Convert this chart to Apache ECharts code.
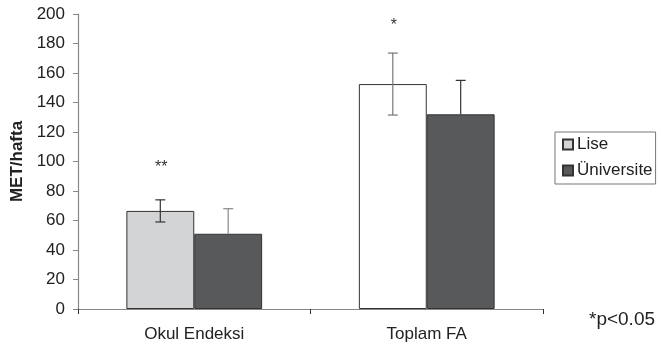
<!DOCTYPE html>
<html><head><meta charset="utf-8">
<script src="https://cdn.jsdelivr.net/npm/echarts@6/dist/echarts.min.js"></script>
<style>html,body{margin:0;padding:0;background:#fff}#c{width:661px;height:349px}</style>
</head><body><div id="c"></div>
<script>
var categories = ['Okul Endeksi', 'Toplam FA'];
var liseValues = [66.5, 152.5];
var liseSD = [7.5, 21];
var univValues = [51, 132];
var univSD = [17, 23];
var significance = ['**', '*'];
var significanceLevel = [98, 194];
var yTicks = {min: 0, max: 200, interval: 20};

var FONT = '"Liberation Sans", Arial, sans-serif';
var BAR_FRAC = 0.292;
var chart = echarts.init(document.getElementById('c'));

function errRender(values, sds, sideSign, showLower, color, stars) {
  return function (params, api) {
    var i = api.value(0);
    var bw = api.size([1, 0])[0] * BAR_FRAC;
    var base = api.coord([i, values[i]]);
    var x = base[0] + sideSign * bw / 2;
    var yTop = api.coord([i, values[i] + sds[i]])[1];
    var yBot = showLower ? api.coord([i, values[i] - sds[i]])[1] : base[1];
    var children = [
      {type: 'line', shape: {x1: x, y1: yTop, x2: x, y2: yBot}, style: {stroke: color[i], lineWidth: 1.2}},
      {type: 'line', shape: {x1: x - 5, y1: yTop, x2: x + 5, y2: yTop}, style: {stroke: color[i], lineWidth: 1.2}}
    ];
    if (showLower) children.push({type: 'line', shape: {x1: x - 5, y1: yBot, x2: x + 5, y2: yBot}, style: {stroke: color[i], lineWidth: 1.2}});
    if (stars && stars[i]) {
      var ys = api.coord([i, significanceLevel[i]])[1];
      children.push({type: 'text', style: {text: stars[i], x: x + 1, y: ys + 3, align: 'center', verticalAlign: 'middle', font: '16px ' + FONT, fill: '#333'}});
    }
    return {type: 'group', children: children};
  };
}

chart.setOption({
  animation: false,
  grid: {left: 78, right: 118, top: 14, bottom: 40, containLabel: false},
  legend: {
    data: ['Lise', 'Üniversite'], orient: 'vertical', left: 555, top: 132,
    padding: [4, 3, 5, 7], itemGap: 9,
    borderColor: '#777', borderWidth: 1, borderRadius: 0,
    itemWidth: 10, itemHeight: 10, icon: 'rect',
    textStyle: {fontFamily: FONT, fontSize: 17, color: '#222', padding: [0, 0, 0, -1]}
  },
  xAxis: {
    type: 'category', data: categories,
    axisLine: {lineStyle: {color: '#888', width: 1.2}},
    axisTick: {show: true, length: 5, lineStyle: {color: '#333'}},
    axisLabel: {fontFamily: FONT, fontSize: 17, color: '#222', margin: 17}
  },
  yAxis: {
    type: 'value', min: yTicks.min, max: yTicks.max, interval: yTicks.interval,
    name: 'MET/hafta', nameLocation: 'middle', nameGap: 48,
    nameTextStyle: {fontFamily: FONT, fontSize: 17, fontWeight: 'bold', color: '#222'},
    axisLine: {show: true, lineStyle: {color: '#888', width: 1.2}},
    axisTick: {show: true, inside: false, length: 5, lineStyle: {color: '#888'}},
    splitLine: {show: false},
    axisLabel: {fontFamily: FONT, fontSize: 17, color: '#222', margin: 13}
  },
  graphic: [{type: 'text', left: 589, top: 310, style: {text: '*p<0.05', font: '19px ' + FONT, fill: '#222'}}],
  series: [
    {
      name: 'Lise', type: 'bar', barWidth: (BAR_FRAC * 100) + '%', barGap: '0%',
      itemStyle: {color: '#d3d4d6', borderColor: '#333', borderWidth: 1},
      data: liseValues.map(function (v, i) { return i === 1 ? {value: v, itemStyle: {color: '#ffffff'}} : v; })
    },
    {
      name: 'Üniversite', type: 'bar', barWidth: (BAR_FRAC * 100) + '%', barGap: '0%',
      itemStyle: {color: '#58595b', borderColor: '#333', borderWidth: 1},
      data: univValues
    },
    {
      type: 'custom', renderItem: errRender(liseValues, liseSD, -1, true, ['#333', '#777'], significance),
      data: categories.map(function (c, i) { return [i]; }), z: 5
    },
    {
      type: 'custom', renderItem: errRender(univValues, univSD, 1, false, ['#888', '#333'], null),
      data: categories.map(function (c, i) { return [i]; }), z: 5
    }
  ]
});
</script></body></html>
